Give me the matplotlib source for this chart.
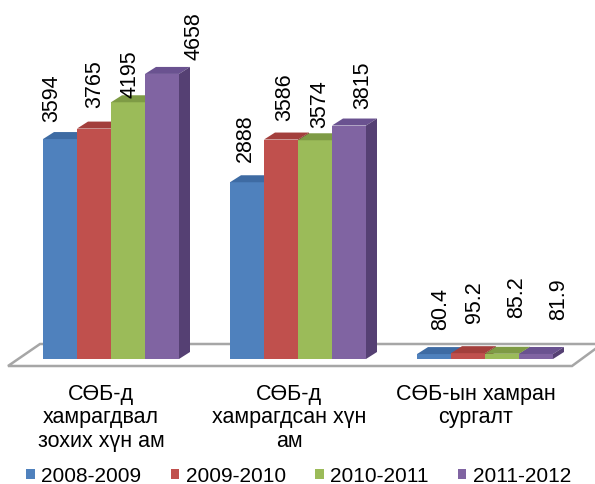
import matplotlib.pyplot as plt
from matplotlib.patches import Polygon, Patch

plt.rcParams['font.family'] = ['Liberation Sans', 'DejaVu Sans']

categories = ["СӨБ-д\nхамрагдвал\nзохих хүн ам",
              "СӨБ-д\nхамрагдсан хүн\nам",
              "СӨБ-ын хамран\nсургалт"]
years = ["2008-2009", "2009-2010", "2010-2011", "2011-2012"]
v0809 = [3594, 2888, 80.4]
v0910 = [3765, 3586, 95.2]
v1011 = [4195, 3574, 85.2]
v1112 = [4658, 3815, 81.9]
series = [v0809, v0910, v1011, v1112]

front = ["#4F81BD", "#C0504D", "#9BBB59", "#8064A2"]
top = ["#3E6BA3", "#A33F3C", "#7E9B45", "#6A5290"]
side = ["#2F5584", "#8A3330", "#67803A", "#554073"]

W, H = 595, 484
fig = plt.figure(figsize=(W / 100, H / 100), dpi=100)
ax = fig.add_axes([0, 0, 1, 1])

# pixel <-> data helpers (base line of bars at pixel row 359)
upp = 16.34          # data units per pixel
gap = 187.0          # pixels between groups
x0 = 111.0           # pixel centre of first group


def px_x(p):
    return (p - x0) / gap


def px_y(p):
    return (359 - p) * upp


ax.set_xlim(px_x(0), px_x(W))
ax.set_ylim(px_y(H), px_y(0))
ax.axis('off')

# floor
floor = Polygon([(px_x(8), px_y(366)), (px_x(40), px_y(344)),
                 (px_x(602), px_y(344)), (px_x(572), px_y(366))],
                closed=True, facecolor='white', edgecolor='#a6a6a6', lw=1.8, zorder=1)
ax.add_patch(floor)

bw = 34 / gap
ddx = 11 / gap
ddy = 7 * upp

for g in range(len(categories)):
    for s in range(len(series)):
        v = series[s][g]
        left = g + (s - 2) * bw
        ax.bar(left, v, width=bw, align='edge', color=front[s], lw=0, zorder=2)
        ax.add_patch(Polygon([(left, v), (left + ddx, v + ddy), (left + bw + ddx, v + ddy),
                              (left + bw, v)], closed=True, facecolor=top[s], lw=0, zorder=2))
        ax.add_patch(Polygon([(left + bw, 0), (left + bw + ddx, ddy), (left + bw + ddx, v + ddy),
                              (left + bw, v)], closed=True, facecolor=side[s], lw=0, zorder=2))

# value labels: shift in pixels (dx, gap above bar)
shift = [[(-8, 17), (1, 21), (1.5, 4), (32, 14)],
         [(-2, 20), (4, 19), (5, 12), (14, 17)],
         [(7, 24), (6.5, 30), (15, 36), (23, 34)]]
for g in range(len(categories)):
    for s in range(len(series)):
        v = series[s][g]
        cx = g + (s - 1.5) * bw + shift[g][s][0] / gap
        ax.text(cx, v + shift[g][s][1] * upp, "%g" % v, rotation=90, ha='center', va='bottom',
                fontsize=15.5, color='black', zorder=5)

# category labels
for g, c in enumerate(categories):
    cx = [101, 289, 476][g]
    fig.text(cx / W, 1 - 384 / H, c, ha='center', va='top', fontsize=15.5,
             linespacing=1.15)

handles = [Patch(facecolor=front[i], label=years[i]) for i in range(4)]
fig.legend(handles=handles, loc='center', bbox_to_anchor=(0.502, 1 - 476 / H), ncol=4,
           frameon=False, fontsize=15, handlelength=0.42, handleheight=0.42,
           handletextpad=0.3, columnspacing=1.4, borderaxespad=0)

fig.savefig("out.png", dpi=100)
